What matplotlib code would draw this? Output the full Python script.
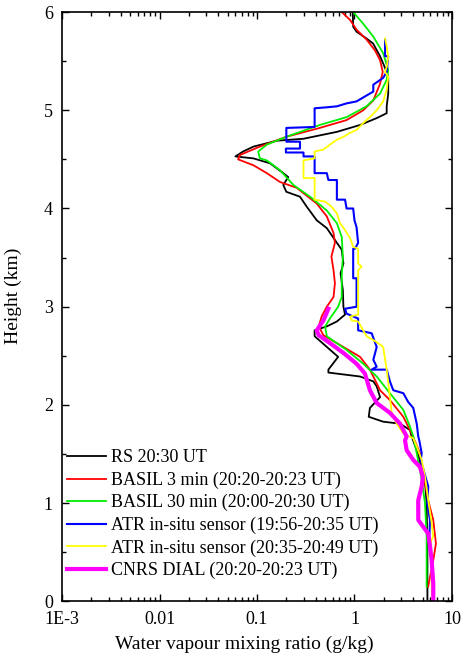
import numpy as np
import matplotlib
matplotlib.use('Agg')
import matplotlib.pyplot as plt
from matplotlib.ticker import NullFormatter, LogLocator, MultipleLocator

plt.rcParams['font.family'] = ['Liberation Serif', 'DejaVu Serif']

# RS 20:30 UT
rs_h = [6.00, 5.85, 5.80, 5.73, 5.68, 5.55, 5.43, 5.34, 5.17, 5.04, 4.97, 4.92,
        4.85, 4.78, 4.71, 4.69, 4.63, 4.58, 4.53, 4.51, 4.46, 4.36, 4.32, 4.24,
        4.17, 4.12, 4.02, 3.88, 3.80, 3.68, 3.58, 3.44, 3.34, 3.17, 3.00, 2.92,
        2.85, 2.80, 2.76, 2.70, 2.49, 2.36, 2.33, 2.29, 2.24, 2.19, 2.08, 1.97,
        1.88, 1.83, 1.81, 1.745, 1.68, 1.50, 1.20, 1.00, 0.50, 0.02]
rs_x = [0.96, 0.97, 1.05, 1.33, 1.55, 1.83, 2.06, 2.22, 2.22, 2.14, 2.14, 1.69,
        1.14, 0.66, 0.30, 0.16, 0.092, 0.072, 0.060, 0.092, 0.136, 0.186, 0.209, 0.186,
        0.20, 0.276, 0.323, 0.41, 0.52, 0.63, 0.74, 0.77, 0.72, 0.76, 0.77, 0.80,
        0.66, 0.52, 0.39, 0.39, 0.68, 0.54, 0.54, 1.14, 1.56, 1.69, 1.83, 1.44,
        1.40, 1.97, 2.93, 3.71, 3.86, 4.5, 5.3, 5.5, 5.6, 5.6]

# BASIL 3 min
b3_h = [6.00, 5.92, 5.82, 5.72, 5.61, 5.51, 5.39, 5.27, 5.10, 5.00, 4.90, 4.82,
        4.73, 4.63, 4.545, 4.50, 4.44, 4.36, 4.27, 4.21, 4.05, 3.92, 3.75, 3.65,
        3.51, 3.37, 3.24, 3.10, 3.00, 2.90, 2.80, 2.71, 2.59, 2.49, 2.36, 2.15,
        2.05, 1.88, 1.71, 1.51, 1.30, 1.03, 0.83, 0.59, 0.42, 0.15]
b3_x = [0.74, 0.90, 1.05, 1.33, 1.62, 1.83, 1.95, 1.83, 1.56, 1.23, 0.83, 0.44,
        0.20, 0.107, 0.067, 0.064, 0.092, 0.126, 0.172, 0.256, 0.41, 0.52, 0.61, 0.63,
        0.58, 0.61, 0.63, 0.61, 0.52, 0.46, 0.43, 0.48, 0.77, 1.14, 1.44, 1.83,
        2.31, 3.17, 3.86, 4.70, 5.08, 5.71, 6.43, 6.85, 6.43, 5.7]

# BASIL 30 min
b30_h = [6.00, 5.88, 5.75, 5.58, 5.41, 5.31, 5.17, 5.04, 4.93, 4.85, 4.73, 4.65,
         4.58, 4.51, 4.49, 4.39, 4.24, 4.12, 3.98, 3.85, 3.71, 3.51, 3.31, 3.10,
         3.00, 2.88, 2.80, 2.70, 2.56, 2.42, 2.29, 2.12, 1.95, 1.78, 1.68, 1.51,
         1.24, 1.00, 0.66, 0.15]
b30_x = [0.97, 1.23, 1.56, 1.97, 2.22, 2.14, 1.83, 1.33, 0.83, 0.44, 0.20, 0.126,
         0.103, 0.107, 0.126, 0.172, 0.236, 0.35, 0.52, 0.66, 0.74, 0.76, 0.74, 0.74,
         0.68, 0.56, 0.50, 0.52, 0.83, 1.23, 1.69, 2.31, 3.17, 3.71, 4.01, 4.35,
         4.89, 5.29, 5.50, 5.50]

# ATR in-situ sensor (19:56-20:35 UT)
atr1_h = [5.72, 5.55, 5.55, 5.39, 5.33, 5.26, 5.19, 5.15, 5.09, 5.07, 5.04, 5.03,
          5.02, 4.83, 4.82, 4.68, 4.68, 4.61, 4.61, 4.57, 4.57, 4.53, 4.53, 4.36,
          4.36, 4.29, 4.29, 4.09, 4.09, 4.00, 4.00, 3.88, 3.81, 3.65, 3.59, 3.59,
          3.29, 3.29, 3.00, 2.98, 2.93, 2.88, 2.76, 2.73, 2.59, 2.46, 2.39, 2.36,
          2.36, 2.24, 2.15, 2.12, 2.03, 1.97, 1.81, 1.68, 1.64, 1.51, 1.44, 1.17,
          1.00, 0.83, 0.66, 0.60]
atr1_x = [2.06, 2.06, 2.22, 2.14, 1.97, 1.56, 1.56, 1.33, 1.05, 0.83, 0.66, 0.52,
          0.39, 0.39, 0.20, 0.20, 0.276, 0.276, 0.198, 0.198, 0.30, 0.30, 0.39, 0.39,
          0.52, 0.54, 0.66, 0.66, 0.80, 0.83, 0.97, 1.00, 1.05, 1.09, 1.01, 0.97,
          0.97, 1.05, 1.05, 0.80, 0.83, 1.09, 1.09, 1.50, 1.69, 1.56, 1.69, 1.50,
          2.14, 2.31, 2.50, 3.17, 3.56, 4.01, 4.35, 4.51, 4.62, 4.89, 4.78, 5.71,
          5.58, 5.95, 5.86, 6.0]

# ATR in-situ sensor (20:35-20:49 UT)
atr2_h = [5.73, 5.65, 5.54, 5.44, 5.39, 5.34, 5.21, 5.09, 5.00, 4.93, 4.87, 4.80,
          4.77, 4.73, 4.70, 4.65, 4.60, 4.58, 4.51, 4.49, 4.31, 4.31, 4.09, 4.07,
          4.02, 3.95, 3.85, 3.78, 3.70, 3.61, 3.59, 3.44, 3.41, 3.37, 3.17, 2.92,
          2.90, 2.86, 2.85, 2.70, 2.64, 2.59, 2.36, 2.08, 1.92, 1.81, 1.71, 1.66,
          1.58, 1.44, 1.27, 1.03, 0.80, 0.66, 0.62, 0.42, 0.15, 0.00]
atr2_x = [2.06, 2.14, 2.22, 2.14, 2.06, 2.22, 2.14, 1.97, 1.69, 1.44, 1.23, 1.05,
          0.90, 0.77, 0.66, 0.56, 0.48, 0.39, 0.39, 0.30, 0.30, 0.39, 0.39, 0.50,
          0.58, 0.66, 0.71, 0.80, 0.90, 0.97, 1.09, 1.09, 1.18, 1.09, 1.09, 1.09,
          0.90, 0.94, 1.09, 1.33, 1.69, 1.97, 2.14, 2.31, 2.41, 2.71, 3.17, 4.01,
          4.35, 4.89, 5.29, 5.71, 6.19, 6.43, 6.09, 6.19, 6.19, 6.28]

# CNRS DIAL (20:20-20:23 UT)
dial_h = [2.98, 2.86, 2.76, 2.71, 2.63, 2.53, 2.42, 2.32, 2.15, 2.02, 1.92, 1.81,
          1.68, 1.64, 1.54, 1.44, 1.37, 1.27, 1.17, 1.03, 0.90, 0.83, 0.76, 0.69,
          0.56, 0.42, 0.18, 0.00]
dial_x = [0.54, 0.48, 0.41, 0.43, 0.56, 0.77, 1.05, 1.28, 1.44, 1.69, 2.31, 2.93,
          3.43, 3.30, 3.43, 4.01, 4.70, 5.03, 4.89, 4.51, 4.51, 4.51, 5.08, 5.71,
          5.95, 6.19, 6.43, 6.43]

labels = ['RS 20:30 UT',
          'BASIL 3 min (20:20-20:23 UT)',
          'BASIL 30 min (20:00-20:30 UT)',
          'ATR in-situ sensor (19:56-20:35 UT)',
          'ATR in-situ sensor (20:35-20:49 UT)',
          'CNRS DIAL (20:20-20:23 UT)']

xticks = [1e-3, 1e-2, 1e-1, 1, 10]
xtick_labels = ['1E-3', '0.01', '0.1', '1', '10']

fig = plt.figure(figsize=(4.67, 6.56), dpi=100)
ax = fig.add_axes([0.1328, 0.0831, 0.835, 0.8986])

ax.plot(rs_x, rs_h, color='black', lw=1.3, label=labels[0])
ax.plot(b3_x, b3_h, color='#ff0000', lw=1.3, label=labels[1])
ax.plot(b30_x, b30_h, color='#00ee00', lw=1.3, label=labels[2])
ax.plot(atr1_x, atr1_h, color='#0000ff', lw=1.5, label=labels[3])
ax.plot(atr2_x, atr2_h, color='#ffff00', lw=1.3, label=labels[4])
ax.plot(dial_x, dial_h, color='#ff00ff', lw=3.0, label=labels[5])

ax.set_xscale('log')
ax.set_xlim(1e-3, 10)
ax.set_ylim(0, 6)
ax.set_xticks(xticks)
ax.set_xticklabels(xtick_labels)
ax.xaxis.set_minor_locator(LogLocator(base=10, subs=np.arange(2, 10)))
ax.xaxis.set_minor_formatter(NullFormatter())
ax.yaxis.set_major_locator(MultipleLocator(1))
ax.yaxis.set_minor_locator(MultipleLocator(0.5))

ax.tick_params(which='both', direction='in', top=True, right=True, labelsize=13, width=1)
ax.tick_params(which='major', length=5)
ax.tick_params(which='minor', length=3)
ax.tick_params(axis='x', which='major', pad=7)
ax.tick_params(axis='y', which='major', pad=6.5)
for s in ax.spines.values():
    s.set_linewidth(1.2)

ax.set_xlabel('Water vapour mixing ratio (g/kg)', fontsize=14)
ax.set_ylabel('Height (km)', fontsize=14)
ax.xaxis.set_label_coords(0.467, -0.0585)
ax.yaxis.set_label_coords(-0.1026, 0.518)

ax.legend(loc='upper left', bbox_to_anchor=(0.012, 0.258), frameon=False,
          fontsize=13, handlelength=2.2, handletextpad=0.28,
          labelspacing=0.29, borderpad=0, borderaxespad=0)

fig.savefig('out.png', dpi=100)
